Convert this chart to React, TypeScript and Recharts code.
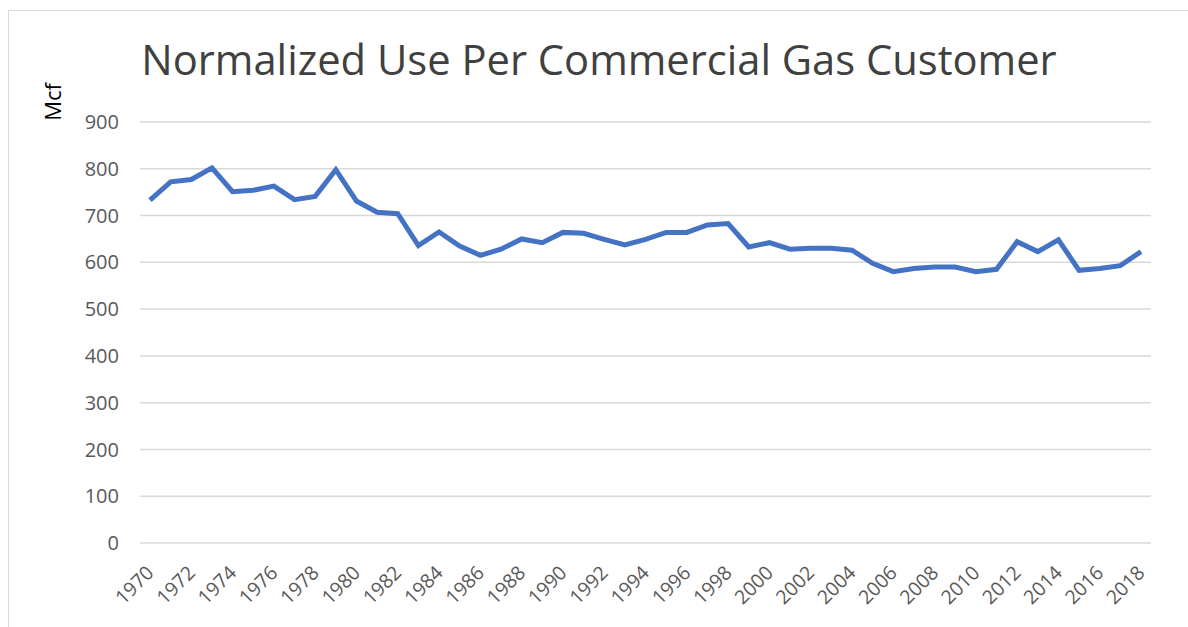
import { LineChart, Line, XAxis, YAxis, CartesianGrid } from "recharts"

const years = [
  "1970", "1971", "1972", "1973", "1974", "1975", "1976", "1977", "1978", "1979",
  "1980", "1981", "1982", "1983", "1984", "1985", "1986", "1987", "1988", "1989",
  "1990", "1991", "1992", "1993", "1994", "1995", "1996", "1997", "1998", "1999",
  "2000", "2001", "2002", "2003", "2004", "2005", "2006", "2007", "2008", "2009",
  "2010", "2011", "2012", "2013", "2014", "2015", "2016", "2017", "2018",
]

const usePerCustomer = [
  733, 772, 777, 802, 751, 754, 763, 734, 741, 798,
  731, 707, 704, 636, 665, 635, 615, 628, 650, 642,
  664, 662, 649, 637, 649, 664, 664, 680, 683, 633,
  642, 628, 630, 630, 626, 598, 580, 587, 590, 590,
  580, 585, 644, 623, 648, 583, 587, 593, 623,
]

const yTicks = [0, 100, 200, 300, 400, 500, 600, 700, 800, 900]

const data = years.map((year, i) => ({ year, value: usePerCustomer[i] }))

const FONT = "'Open Sans', sans-serif"

// eslint-disable-next-line @typescript-eslint/no-explicit-any
const YearTick = ({ x, payload }: any) => (
  <text
    transform={`translate(${x + 5}, 574) rotate(-45)`}
    textAnchor="end"
    fontFamily={FONT}
    fontSize={19.5}
    fill="#595959"
  >
    {payload.value}
  </text>
)

export default function App() {
  return (
    <div
      style={{
        position: "absolute",
        left: 0,
        top: 0,
        width: 1188,
        height: 627,
        background: "#fff",
        overflow: "hidden",
      }}
    >
      <div
        style={{
          position: "absolute",
          left: 8,
          top: 10,
          width: 1300,
          height: 700,
          border: "1.5px solid #d9d9d9",
        }}
      />
      <div
        style={{
          position: "absolute",
          left: 0,
          top: 29,
          width: 1198,
          textAlign: "center",
          fontFamily: FONT,
          fontSize: 41.7,
          color: "#404040",
          lineHeight: "60px",
        }}
      >
        Normalized Use Per Commercial Gas Customer
      </div>
      <div
        style={{
          position: "absolute",
          left: 52,
          top: 102,
          transform: "translate(-50%, -50%) rotate(-90deg)",
          fontFamily: FONT,
          fontSize: 22,
          color: "#000",
          whiteSpace: "nowrap",
        }}
      >
        Mcf
      </div>
      <LineChart
        width={1188}
        height={627}
        data={data}
        margin={{ top: 122, right: 37, left: 0, bottom: 0 }}
        style={{ position: "absolute", left: 0, top: 0 }}
      >
        <CartesianGrid vertical={false} stroke="#d9d9d9" strokeWidth={1.5} />
        <XAxis
          dataKey="year"
          interval={1}
          axisLine={false}
          tickLine={false}
          height={84}
          padding={{ left: 10, right: 10 }}
          tick={<YearTick />}
        />
        <YAxis
          domain={[0, 900]}
          ticks={yTicks}
          width={140}
          axisLine={false}
          tickLine={false}
          tickMargin={15}
          tick={{ fontFamily: FONT, fontSize: 20, fill: "#595959" }}
        />
        <Line
          type="linear"
          dataKey="value"
          stroke="#4472C4"
          strokeWidth={5}
          dot={false}
          isAnimationActive={false}
        />
      </LineChart>
    </div>
  )
}
